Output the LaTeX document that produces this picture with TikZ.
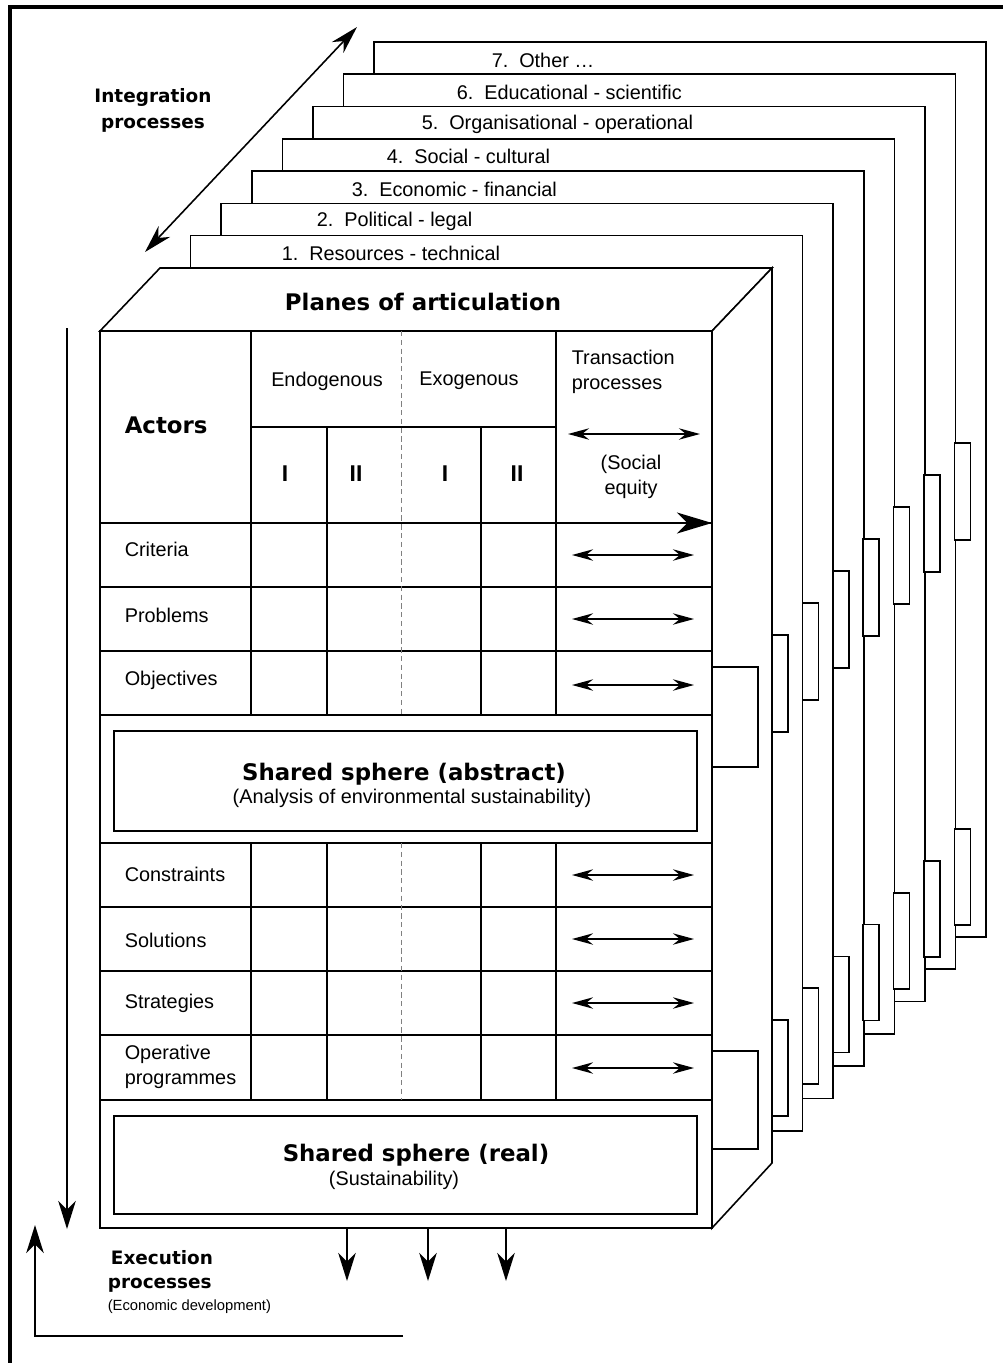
\documentclass[tikz,border=0pt]{standalone}
\usepackage{fontspec}
\setmainfont{Liberation Sans}
\newfontfamily\headfont{DejaVu Sans}
\usetikzlibrary{arrows.meta,positioning}

\def\gap{\hspace{0.55em}}

\begin{document}
\begin{tikzpicture}
		[x=0.02cm,y=-0.02cm,line width=0.9pt,
		lbl/.style={font=\fontsize{11.3}{14.2}\selectfont,inner sep=0pt},
		small lbl/.style={font=\fontsize{8.4}{10}\selectfont,inner sep=0pt},
		num/.style={font=\bfseries\fontsize{13}{15}\selectfont,inner sep=0pt},
		head/.style={font=\headfont\bfseries\fontsize{13}{15}\selectfont,inner sep=0pt},
		side head/.style={font=\headfont\bfseries\fontsize{10.5}{14.8}\selectfont,inner sep=0pt},
		plane/.style={draw,fill=white},
		tab/.style={draw,fill=white},
		mid line/.style={draw=gray,line width=0.4pt,dash pattern=on 3pt off 2pt},
		trans/.style={{Stealth[length=12pt,width=6.5pt,inset=4pt]}-{Stealth[length=12pt,width=6.5pt,inset=4pt]}},
		flow/.style={-{Stealth[length=16pt,width=10pt,inset=5pt]}}]
		
		\useasboundingbox (0,0) rectangle (1003,1363);
		\draw[line width=1.9pt] (10,1363) -- (10,7) -- (1003,7);
		
		% planes behind the box
		\foreach \k/\txt in {7/{7.\gap Other …},6/{6.\gap Educational - scientific},
			5/{5.\gap Organisational - operational},4/{4.\gap Social - cultural},
			3/{3.\gap Economic - financial},2/{2.\gap Political - legal},
			1/{1.\gap Resources - technical}}{
			\draw[plane] ({160+30.6*\k},{268-32.3*\k}) rectangle ({772+30.6*\k},{1163-32.3*\k});
			\node[lbl,anchor=west] (p\k) at ({246+35*\k},{286-32.3*\k}) {\txt};
		}
		
		% the box
		\draw[fill=white] (100,331) -- (160,268) -- (772,268) -- (712,331) -- cycle;
		\draw[fill=white] (712,331) -- (772,268) -- (772,1163) -- (712,1228) -- cycle;
		\draw[fill=white] (100,331) rectangle (712,1228);
		\node[head] (planes) at (423,302) {Planes of articulation};
		
		% tabs
		\foreach \j in {0,...,6}{
			\draw[tab] ({772+30.4*\j},{635-32*\j}) rectangle +(16,97);
			\draw[tab] ({772+30.4*\j},{1020-31.8*\j}) rectangle +(16,96);
		}
		\draw[tab] (712,667) rectangle (758,767);
		\draw[tab] (712,1051) rectangle (758,1149);
		
		% grid
		\draw (251,427) -- (556,427);
		\foreach \y in {523,587,651,715,843,907,971,1035,1100}
		\draw (100,\y) -- (712,\y);
		\foreach \x in {251,556}{
			\draw (\x,331) -- (\x,715);
			\draw (\x,843) -- (\x,1100);
		}
		\foreach \x in {327,481}{
			\draw (\x,427) -- (\x,715);
			\draw (\x,843) -- (\x,1100);
		}
		\draw[mid line] (401,331) -- (401,715);
		\draw[mid line] (401,843) -- (401,1100);
		
		\node[head,anchor=west] (actors) at (124,425) {Actors};
		\node[lbl] (endo) at (327,381) {Endogenous};
		\node[lbl] (exo) at (469,381) {Exogenous};
		\node[num] (en1) at (285,474) {I};
		\node[num] (en2) at (356,474) {II};
		\node[num] (ex1) at (445,474) {I};
		\node[num] (ex2) at (517,474) {II};
		\node[lbl,anchor=north west,align=left] (trproc) at (571,349) {Transaction\\processes};
		\node[lbl,align=center] (equity) at (631,477) {(Social\\equity};
		
		\node[lbl,anchor=west] (crit) at (124,549) {Criteria};
		\node[lbl,anchor=west] (prob) at (124,615) {Problems};
		\node[lbl,anchor=west] (obj) at (124,680) {Objectives};
		\node[lbl,anchor=west] (cons) at (124,874) {Constraints};
		\node[lbl,anchor=west] (sol) at (124,940) {Solutions};
		\node[lbl,anchor=west] (strat) at (124,1003) {Strategies};
		\node[lbl,anchor=west,align=left] (oper) at (124,1067) {Operative\\programmes};
		
		% shared spheres
		\draw (114,731) rectangle (697,831);
		\node[head] (abs) at (404,774) {Shared sphere (abstract)};
		\node[lbl] (abs sub) at (412,798) {(Analysis of environmental sustainability)};
		\draw (114,1116) rectangle (697,1214);
		\node[head] (real) at (416,1155) {Shared sphere (real)};
		\node[lbl] (real sub) at (394,1180) {(Sustainability)};
		
		% transaction arrows
		\coordinate (th l) at (568,434);
		\coordinate (th r) at (700,434);
		\draw[trans] (th l) -- (th r);
		\foreach \y [count=\i] in {555,619,685,875,939,1003,1068}{
			\coordinate (tl\i) at (572,\y);
			\coordinate (tr\i) at (694,\y);
			\draw[trans] (tl\i) -- (tr\i);
		}
		\coordinate (big a) at (660,523);
		\coordinate (big b) at (712,523);
		\draw[-{Stealth[length=20pt,width=12pt,inset=6pt]}] (big a) -- (big b);
		
		% integration processes
		\coordinate (int a) at (145,252);
		\coordinate (int b) at (357,27);
		\draw[{Stealth[length=16pt,width=9pt,inset=5pt]}-{Stealth[length=16pt,width=9pt,inset=5pt]}] (int a) -- (int b);
		\node[side head,align=center] (integ) at (153,110) {Integration\\processes};
		
		% execution processes
		\coordinate (down a) at (67,328);
		\coordinate (down b) at (67,1229);
		\draw[flow] (down a) -- (down b);
		\coordinate (up a) at (403,1336);
		\coordinate (up c) at (35,1336);
		\coordinate (up b) at (35,1225);
		\draw[flow] (up a) -- (up c) -- (up b);
		\foreach \x [count=\i] in {347,428,506}{
			\coordinate (out a\i) at (\x,1228);
			\coordinate (out b\i) at (\x,1281);
			\draw[flow] (out a\i) -- (out b\i);
		}
		\node[side head] (exec) at (162,1258) {Execution};
		\node[side head,anchor=west] (exec2) at (107,1285) {processes};
		\node[small lbl,anchor=west] (econ) at (107,1307) {(Economic development)};
\end{tikzpicture}
\end{document}
